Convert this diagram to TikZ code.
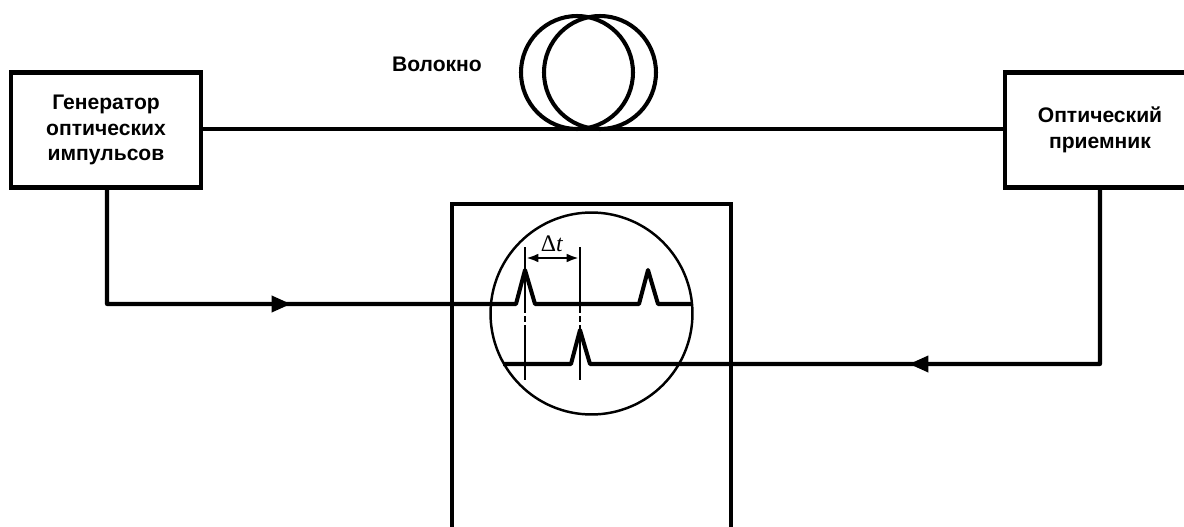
\documentclass[tikz,border=0pt]{standalone}
\usepackage{fontspec}
\setmainfont{Liberation Sans}
\newfontfamily\serifdelta{Liberation Serif}
\usetikzlibrary{arrows.meta}

\begin{document}
\begin{tikzpicture}[
  x=0.02cm, y=-0.02cm,
  every node/.style={font=\fontsize{12pt}{14.5pt}\selectfont\bfseries},
  blockbox/.style={draw, line width=2.8pt, inner sep=0pt, align=center},
  wire/.style={line width=2.3pt},
  thin wire/.style={line width=1.5pt},
  flow/.style={wire, -{Triangle[length=11pt, width=9pt]}}]
\useasboundingbox (0,0) rectangle (1184,527);
% blocks
\node[blockbox, minimum width=3.8cm, minimum height=2.3cm] (gen) at (106,130) {Генератор\\оптических\\импульсов};
\node[blockbox, minimum width=3.8cm, minimum height=2.31cm] (rx) at (1100,130) {Оптический\\приемник};
\node[inner sep=0pt] (fiberlabel) at (437,64) {Волокно};
% fibre coil
\coordinate (coilbase) at (589,129);
\draw[wire] (gen.east |- coilbase) -- (rx.west |- coilbase);
\draw[wire] (577,72.5) ellipse (56 and 56.5);
\draw[wire] (600,72.5) ellipse (56 and 56.5);
% oscilloscope
\draw[line width=2.6pt] (452,527) -- (452,204) -- (731,204) -- (731,527);
\node[circle, draw, line width=1.4pt, minimum size=4.04cm, inner sep=0pt] (screen) at (591.5,313.5) {};
% traces
\coordinate (txout) at (107,187);
\coordinate (rxout) at (rx.south);
\draw[wire, line join=round] (txout) -- (107,304)
  -- (516,304) -- (525,270) -- (535,304) -- (639,304) -- (648,270) -- (658,304) -- (691,304);
\draw[wire, line join=round] (rxout) -- (1100,364) -- (590,364) -- (580,330) -- (571,364) -- (503,364);
\draw[flow] (262,304) -- (291,304);
\draw[flow] (938,364) -- (909,364);
% markers
\coordinate (mtopa) at (525,247);
\coordinate (mtopb) at (580,247);
\draw[thin wire] (mtopa) -- (525,313) (525,316) -- (525,322) (525,325) -- (525,380);
\draw[thin wire] (mtopb) -- (580,313) (580,316) -- (580,322) (580,325) -- (580,380);
\draw[thin wire, {Latex[length=7pt, width=5pt]}-{Latex[length=7pt, width=5pt]}] (526,258) -- (579,258);
\node[inner sep=0pt, font=\fontsize{13.5pt}{14pt}\selectfont] (dt) at (552,244) {{\serifdelta Δ\textit{t}}};
\end{tikzpicture}
\end{document}
